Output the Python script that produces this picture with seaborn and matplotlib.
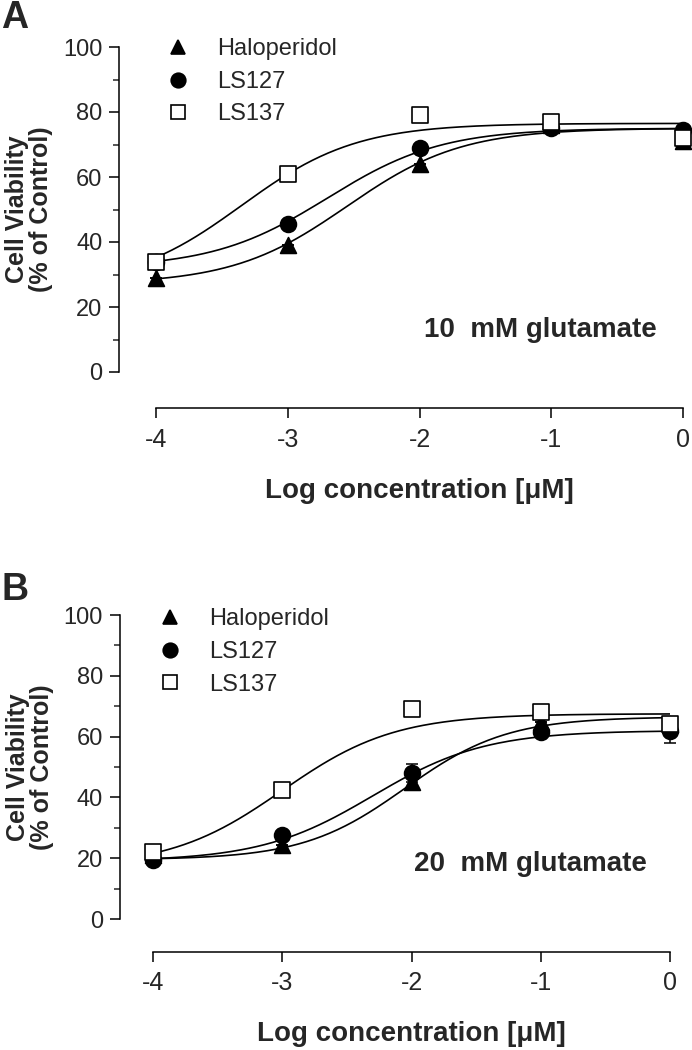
"""
Cell viability vs log concentration, two glutamate conditions (panels A and B)
"""

import matplotlib
matplotlib.use("Agg")
import matplotlib.pyplot as plt
from matplotlib.lines import Line2D
from matplotlib.ticker import MultipleLocator
import numpy as np
import pandas as pd
import seaborn as sns

# ---- data ----
log_conc = [-4, -3, -2, -1, 0]
drugs = ["Haloperidol", "LS127", "LS137"]

# panel A: 10 mM glutamate
a_haloperidol = [29, 39, 64, 76, 71]
a_ls127 = [34, 45.5, 69, 75, 74.5]
a_ls137 = [34, 61, 79, 77, 72]
a_err_haloperidol = [0, 0, 0, 0, 2]
a_err_ls127 = [0, 0, 0, 0, 1]
a_err_ls137 = [0, 0, 0, 0, 2]

# panel B: 20 mM glutamate
b_haloperidol = [21, 24.2, 45, 64.7, 64]
b_ls127 = [19.5, 27.5, 48, 61.5, 62]
b_ls137 = [22, 42.5, 69, 68, 64]
b_err_haloperidol = [0, 0, 1.5, 0, 2]
b_err_ls127 = [0, 0, 3, 0, 4]
b_err_ls137 = [0, 0, 0, 0, 2]

# sigmoid fit parameters (bottom, top, logEC50, hill) as drawn
a_fit_haloperidol = [27, 75, -2.55, 1.0]
a_fit_ls127 = [32, 75, -2.7, 1.0]
a_fit_ls137 = [26, 76.5, -3.35, 1.0]
b_fit_haloperidol = [19.5, 66.5, -2.05, 1.1]
b_fit_ls127 = [19, 62, -2.3, 1.0]
b_fit_ls137 = [17, 67.5, -3.0, 1.0]

markers = {"Haloperidol": "^", "LS127": "o", "LS137": "s"}
facecolors = {"Haloperidol": "black", "LS127": "black", "LS137": "white"}


def sigmoid(x, p):
    bottom, top, ec50, hill = p
    return bottom + (top - bottom) / (1 + 10 ** ((ec50 - x) * hill))


def build_frames(values, errs, fits):
    pts = pd.DataFrame({
        "logc": log_conc * 3,
        "viability": sum(values, []),
        "err": sum(errs, []),
        "drug": np.repeat(drugs, len(log_conc)),
    })
    xs = np.linspace(-4, 0, 200)
    curves = pd.DataFrame({
        "logc": np.tile(xs, 3),
        "viability": np.concatenate([sigmoid(xs, p) for p in fits]),
        "drug": np.repeat(drugs, len(xs)),
    })
    return pts, curves


def draw_panel(ax, pts, curves, note, note_y, offsets, legend_xy):
    sns.lineplot(data=curves, x="logc", y="viability", units="drug", estimator=None,
                 color="black", lw=1.2, ax=ax, legend=False)
    for drug in drugs:
        d = pts[pts.drug == drug]
        ax.errorbar(d.logc, d.viability, yerr=d.err, fmt="none", ecolor="black",
                    elinewidth=1.1, capsize=4, capthick=1.1, clip_on=False, zorder=3)
        sns.scatterplot(data=d, x="logc", y="viability", marker=markers[drug],
                        s=130, color=facecolors[drug], edgecolor="black",
                        linewidth=1.2, ax=ax, clip_on=False, zorder=4, legend=False)

    ax.set_xlim(-4, 0)
    ax.set_ylim(0, 100)
    ax.set_xticks(log_conc)
    ax.set_xticklabels(["-4", "-3", "-2", "-1", "0"])
    ax.yaxis.set_major_locator(MultipleLocator(20))
    ax.yaxis.set_minor_locator(MultipleLocator(10))
    ax.tick_params(axis="both", which="major", length=7, width=1.1, labelsize=17,
                   direction="out", color="black", pad=5)
    ax.tick_params(axis="y", which="minor", length=4, width=1.1, direction="out")
    ax.tick_params(axis="x", pad=7, labelsize=18)
    sns.despine(ax=ax, offset=offsets)
    for s in ["left", "bottom"]:
        ax.spines[s].set_linewidth(1.1)
        ax.spines[s].set_color("black")

    ax.set_xlabel("Log concentration [\u03bcM]", fontsize=20, fontweight="bold", labelpad=19)
    ax.set_ylabel("Cell Viability\n(% of Control)", fontsize=18, fontweight="bold",
                  labelpad=7, linespacing=1.0)
    ax.text(-1.08, note_y, note, fontsize=20, fontweight="bold", ha="center", va="center")

    handles = [Line2D([], [], ls="none", marker=markers[d], markersize=10.5,
                      markerfacecolor=facecolors[d], markeredgecolor="black",
                      markeredgewidth=1.2) for d in drugs]
    ax.legend(handles, drugs, loc="upper left", bbox_to_anchor=legend_xy,
              frameon=False, fontsize=17, handlelength=1.0, handletextpad=1.15,
              labelspacing=0.45, borderpad=0, borderaxespad=0)


sns.set_style("ticks")
plt.rcParams["font.family"] = ["Liberation Sans", "DejaVu Sans"]

fig = plt.figure(figsize=(6.92, 10.5), dpi=100)
W, H = 692, 1050
ax_a = fig.add_axes([156 / W, 1 - 372 / H, 527 / W, 325 / H])
ax_b = fig.add_axes([153 / W, 1 - 919 / H, 517 / W, 304 / H])

pts_a, curves_a = build_frames([a_haloperidol, a_ls127, a_ls137],
                               [a_err_haloperidol, a_err_ls127, a_err_ls137],
                               [a_fit_haloperidol, a_fit_ls127, a_fit_ls137])
pts_b, curves_b = build_frames([b_haloperidol, b_ls127, b_ls137],
                               [b_err_haloperidol, b_err_ls127, b_err_ls137],
                               [b_fit_haloperidol, b_fit_ls127, b_fit_ls137])

draw_panel(ax_a, pts_a, curves_a, "10  mM glutamate", 13,
           {"left": 26.5, "bottom": 26}, (0.019, 1.027))
draw_panel(ax_b, pts_b, curves_b, "20  mM glutamate", 18,
           {"left": 24, "bottom": 23.5}, (0.010, 1.022))

fig.text(1 / W, 1 - 18 / H, "A", fontsize=27, fontweight="bold", va="center", ha="left")
fig.text(1 / W, 1 - 590 / H, "B", fontsize=27, fontweight="bold", va="center", ha="left")

fig.savefig("out.png", dpi=100)
